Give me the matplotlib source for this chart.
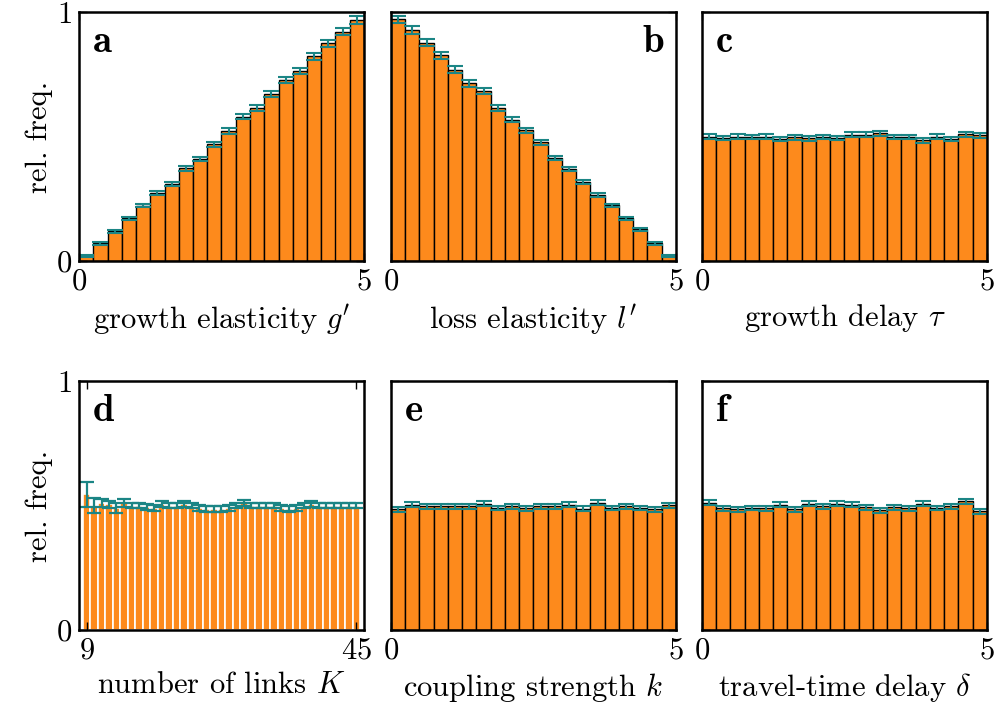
import numpy as np
import matplotlib
matplotlib.use("Agg")
import matplotlib.pyplot as plt

plt.rcParams['font.family'] = 'serif'
plt.rcParams['font.serif'] = ['cmr10']
plt.rcParams['mathtext.fontset'] = 'cm'
plt.rcParams['axes.unicode_minus'] = False
plt.rcParams['axes.formatter.use_mathtext'] = True

ORANGE = '#fd8a1c'
TEAL = '#1b8585'

# bin centres for the continuous parameters (20 bins on [0, 5])
bins05 = np.linspace(0, 5, 21)
centres05 = 0.5 * (bins05[:-1] + bins05[1:])
# integer values of K
k_links = np.arange(9, 46)

g_freq = [0.020, 0.071, 0.120, 0.171, 0.222, 0.274, 0.311, 0.372, 0.410, 0.469,
          0.523, 0.580, 0.613, 0.669, 0.727, 0.764, 0.823, 0.874, 0.921, 0.968]
g_err = [0.004, 0.005, 0.006, 0.006, 0.007, 0.008, 0.008, 0.009, 0.009, 0.010,
         0.011, 0.011, 0.012, 0.012, 0.013, 0.013, 0.014, 0.014, 0.015, 0.015]

l_freq = [0.970, 0.928, 0.876, 0.827, 0.769, 0.713, 0.682, 0.615, 0.568, 0.525,
          0.477, 0.413, 0.370, 0.319, 0.266, 0.223, 0.172, 0.128, 0.071, 0.020]
l_err = g_err[::-1]

tau_freq = [0.500, 0.494, 0.500, 0.498, 0.500, 0.490, 0.497, 0.493, 0.498, 0.494,
            0.507, 0.507, 0.514, 0.498, 0.498, 0.485, 0.500, 0.490, 0.510, 0.505]
tau_err = [0.010] * 20

K_freq = [0.545, 0.500, 0.510, 0.505, 0.490, 0.510, 0.500, 0.500, 0.495, 0.490,
          0.505, 0.500, 0.500, 0.505, 0.500, 0.490, 0.485, 0.485, 0.485, 0.490,
          0.500, 0.510, 0.500, 0.500, 0.500, 0.500, 0.490, 0.485, 0.490, 0.500,
          0.505, 0.500, 0.500, 0.500, 0.500, 0.500, 0.500]
K_err = [0.050, 0.030, 0.015, 0.015, 0.020, 0.015, 0.012, 0.012, 0.012, 0.012,
         0.012, 0.012, 0.012, 0.012, 0.012, 0.012, 0.012, 0.012, 0.012, 0.012,
         0.012, 0.012, 0.012, 0.012, 0.012, 0.012, 0.012, 0.012, 0.012, 0.012,
         0.012, 0.012, 0.012, 0.012, 0.012, 0.012, 0.012]

kc_freq = [0.484, 0.504, 0.497, 0.497, 0.497, 0.497, 0.507, 0.490, 0.497, 0.488,
           0.497, 0.497, 0.504, 0.487, 0.511, 0.490, 0.497, 0.490, 0.484, 0.501]
kc_err = [0.010] * 20

delta_freq = [0.511, 0.488, 0.484, 0.490, 0.488, 0.504, 0.484, 0.507, 0.497, 0.507,
              0.504, 0.493, 0.481, 0.493, 0.488, 0.507, 0.490, 0.497, 0.517, 0.477]
delta_err = [0.010] * 20

xlabels = ["growth elasticity $g'$", "loss elasticity $l'$", r"growth delay $\tau$",
           "number of links $K$", "coupling strength $k$", r"travel-time delay $\delta$"]
letters = ['a', 'b', 'c', 'd', 'e', 'f']

fig = plt.figure(figsize=(9.95, 7.09), dpi=100)
lefts = [79 / 995, 391 / 995, 702 / 995]
w = 285 / 995
tops = [(709 - 261) / 709, (709 - 630) / 709]
h = 249 / 709

panels = [
    (centres05, g_freq, g_err),
    (centres05, l_freq, l_err),
    (centres05, tau_freq, tau_err),
    (k_links, K_freq, K_err),
    (centres05, kc_freq, kc_err),
    (centres05, delta_freq, delta_err),
]

for i, (x, y, e) in enumerate(panels):
    row, col = divmod(i, 3)
    ax = fig.add_axes([lefts[col], tops[row], w, h])
    if i == 3:
        ax.bar(x, y, width=1.0, color=ORANGE, edgecolor='white', linewidth=1.2)
        ax.errorbar(x, y, yerr=e, fmt='none', ecolor=TEAL, elinewidth=1.6,
                    capsize=5, capthick=1.6)
        ax.set_xlim(8.0, 46.0)
        ax.set_xticks([9, 45])
    else:
        ax.bar(x, y, width=0.25, color=ORANGE, edgecolor='black', linewidth=1.0)
        ax.errorbar(x, y, yerr=e, fmt='none', ecolor=TEAL, elinewidth=1.5,
                    capsize=5.5, capthick=1.5)
        ax.set_xlim(0, 5)
        ax.set_xticks([0, 5])
    ax.set_ylim(0, 1)
    ax.set_yticks([0, 1])
    ax.tick_params(direction='in', top=True, right=True, length=6, width=1,
                   labelsize=22, pad=5)
    if col == 0:
        ax.set_ylabel('rel. freq.', fontsize=22, labelpad=2)
    else:
        ax.set_yticklabels([])
    ax.set_xlabel(xlabels[i], fontsize=22, labelpad=5)
    for s in ax.spines.values():
        s.set_linewidth(1.8)
    if i == 1:
        ax.text(0.96, 0.95, r'$\mathbf{%s}$' % letters[i], transform=ax.transAxes,
                fontsize=28, ha='right', va='top')
    else:
        ax.text(0.045, 0.95, r'$\mathbf{%s}$' % letters[i], transform=ax.transAxes,
                fontsize=28, ha='left', va='top')

fig.savefig('out.png', dpi=100)
